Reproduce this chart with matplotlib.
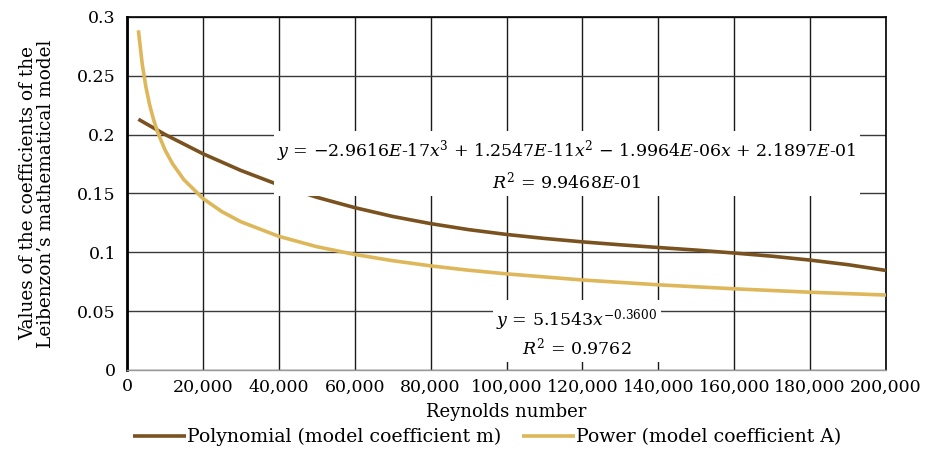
import matplotlib
matplotlib.use("Agg")
import matplotlib.pyplot as plt
from matplotlib.ticker import FuncFormatter, MultipleLocator

plt.rcParams['font.family'] = ['DejaVu Serif']
plt.rcParams['mathtext.fontset'] = 'dejavuserif'

# Data
poly_x = [3000, 10000, 20000, 30000, 40000, 50000, 60000, 70000, 80000, 90000,
          100000, 110000, 120000, 130000, 140000, 150000, 160000, 170000,
          180000, 190000, 200000]
poly_y = [0.2131, 0.2002, 0.1838, 0.1696, 0.1573, 0.1468, 0.1380, 0.1305,
          0.1244, 0.1193, 0.1152, 0.1118, 0.1089, 0.1064, 0.1041, 0.1019,
          0.0994, 0.0967, 0.0934, 0.0895, 0.0846]

power_x = [3000, 4000, 5000, 6000, 7000, 8000, 10000, 12000, 15000, 20000,
           25000, 30000, 40000, 50000, 60000, 70000, 80000, 90000, 100000,
           120000, 140000, 160000, 180000, 200000]
power_y = [0.2887, 0.2603, 0.2402, 0.2249, 0.2128, 0.2028, 0.1871, 0.1753,
           0.1617, 0.1458, 0.1346, 0.1260, 0.1136, 0.1048, 0.0982, 0.0929,
           0.0885, 0.0848, 0.0817, 0.0765, 0.0724, 0.0690, 0.0661, 0.0637]

series_names = ["Polynomial (model coefficient m)", "Power (model coefficient A)"]
poly_eq = ("$y$ = \u22122.9616$E$-17$x^3$ + 1.2547$E$-11$x^2$ \u2212 1.9964$E$-06$x$ + 2.1897$E$-01\n"
           "$R^2$ = 9.9468$E$-01")
power_eq = "$y$ = 5.1543$x^{-0.3600}$\n$R^2$ = 0.9762"

fig = plt.figure(figsize=(9.51, 4.59), dpi=100)
ax = fig.add_axes([127/951, 1-370/459, (886-127)/951, (370-17)/459])

ax.plot(poly_x, poly_y, color='#7A5220', lw=2.6, label=series_names[0], solid_capstyle='butt', zorder=3)
ax.plot(power_x, power_y, color='#DDB75A', lw=2.6, label=series_names[1], solid_capstyle='butt', zorder=3)

ax.set_xlim(0, 200000)
ax.set_ylim(0, 0.3)
ax.xaxis.set_major_locator(MultipleLocator(20000))
ax.yaxis.set_major_locator(MultipleLocator(0.05))
ax.xaxis.set_major_formatter(FuncFormatter(lambda v, p: f"{int(round(v)):,}"))
ax.yaxis.set_major_formatter(FuncFormatter(lambda v, p: "0" if abs(v) < 1e-9 else f"{v:g}"))

ax.grid(True, axis='x', color='#1a1a1a', lw=1.0, zorder=1)
ax.grid(True, axis='y', color='#3a3a3a', lw=1.0, zorder=1)
ax.tick_params(length=0, labelsize=12.5)
ax.tick_params(axis='x', pad=6)
ax.tick_params(axis='y', pad=8)

for s in ['top', 'right']:
    ax.spines[s].set_color('black')
    ax.spines[s].set_linewidth(1.2)
ax.spines['left'].set_color('black')
ax.spines['left'].set_linewidth(2.0)
ax.spines['bottom'].set_color('#999999')
ax.spines['bottom'].set_linewidth(1.0)
ax.spines['bottom'].set_linestyle((0, (1, 1)))

ax.set_xlabel("Reynolds number", fontsize=13, va='center')
ax.xaxis.set_label_coords(0.5, (370-412)/353)
ax.set_ylabel("Values of the coefficients of the\nLeibenzon\u2019s mathematical model",
              fontsize=13.3, va='center', linespacing=1.0)
ax.yaxis.set_label_coords((37-127)/759, 0.5)

ax.text(115942, 0.1742, poly_eq, ha='center', va='center', fontsize=12.5,
        linespacing=1.35, zorder=4,
        bbox=dict(facecolor='white', edgecolor='none', pad=2.5))
ax.text(118577, 0.0314, power_eq, ha='center', va='center', fontsize=12.5,
        linespacing=1.2, zorder=4,
        bbox=dict(facecolor='white', edgecolor='none', pad=2.5))

fig.legend(loc='center', bbox_to_anchor=(487/951, 1-437/459), ncol=2, frameon=False,
           fontsize=13.6, handlelength=2.8, handletextpad=0.05, columnspacing=1.1)

fig.savefig("out.png", dpi=100)
